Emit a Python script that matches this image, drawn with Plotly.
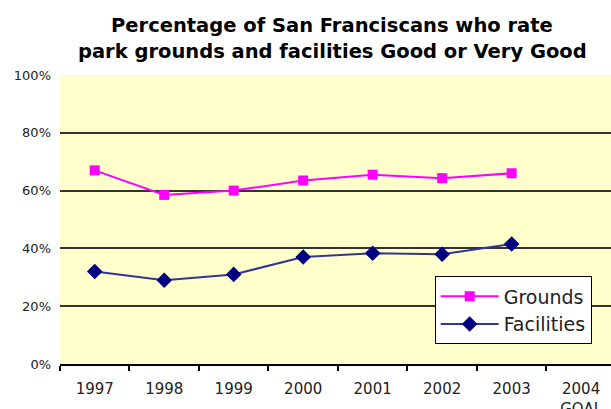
import plotly.graph_objects as go

# Survey years (last one is the target year)
years = ["1997", "1998", "1999", "2000", "2001", "2002", "2003", "2004<br>GOAL"]
grounds_years = ["1997", "1998", "1999", "2000", "2001", "2002", "2003"]

# Share rating Good or Very Good (percent)
grounds = [67, 58.5, 60, 63.5, 65.5, 64.3, 66]
facilities = [32, 29, 31, 37, 38.3, 38, 41.5]

y_ticks = [0, 20, 40, 60, 80, 100]
y_labels = ["0%", "20%", "40%", "60%", "80%", "100%"]

title_lines = [
    "Percentage of San Franciscans who rate",
    "park grounds and facilities Good or Very Good",
]

wide_font = "DejaVu Sans, Verdana, sans-serif"

# plot area geometry in pixels
W, H = 611, 409
M_L, M_R, M_T, M_B = 60, 0, 75, 45
plot_h = H - M_T - M_B

fig = go.Figure()
fig.add_trace(go.Scatter(
    x=grounds_years, y=grounds, name="Grounds", mode="lines+markers",
    line=dict(color="#FF00FF", width=2),
    marker=dict(symbol="square", size=10, color="#FF00FF"),
))
fig.add_trace(go.Scatter(
    x=grounds_years, y=facilities, name="Facilities", mode="lines+markers",
    line=dict(color="#333399", width=2),
    marker=dict(symbol="diamond", size=12, color="#000080"),
))

# two-line bold heading, placed line by line above the plot area
for line, center_px in zip(title_lines, [25, 51]):
    fig.add_annotation(
        text=f"<b>{line}</b>", showarrow=False,
        xref="paper", yref="paper",
        x=(332 - M_L) / (W - M_L - M_R), xanchor="center",
        y=(H - M_B - center_px) / plot_h, yanchor="middle",
        font=dict(size=19.5, family=wide_font, color="black"),
    )

fig.update_layout(
    width=W, height=H,
    margin=dict(l=M_L, r=M_R, t=M_T, b=M_B, autoexpand=False),
    paper_bgcolor="white",
    plot_bgcolor="#FFFFCC",
    font=dict(family=wide_font, color="black"),
    showlegend=True,
    legend=dict(
        x=0.68, y=0.303, xanchor="left", yanchor="top",
        bgcolor="white", bordercolor="black", borderwidth=1,
        font=dict(size=19, family=wide_font, color="#222222"),
        tracegroupgap=0, itemwidth=58,
    ),
    xaxis=dict(
        type="category", categoryorder="array", categoryarray=years,
        range=[-0.5, 7.43], automargin=False,
        tickmode="array", tickvals=years, ticktext=years,
        tickson="boundaries", ticks="outside", ticklen=5, tickwidth=2, tickcolor="black",
        showline=True, linecolor="black", linewidth=2,
        showgrid=False, zeroline=False,
        ticklabelstandoff=10,
        tickfont=dict(size=15, family=wide_font, color="#222222"),
    ),
    yaxis=dict(
        range=[0, 100], automargin=False,
        tickmode="array", tickvals=y_ticks, ticktext=y_labels,
        showgrid=True, gridcolor="#333333", gridwidth=2,
        showline=False, zeroline=False, ticks="", ticklen=0,
        ticklabelstandoff=8,
        tickfont=dict(size=13, family=wide_font, color="#222222"),
    ),
)

fig.write_html("out.html")
